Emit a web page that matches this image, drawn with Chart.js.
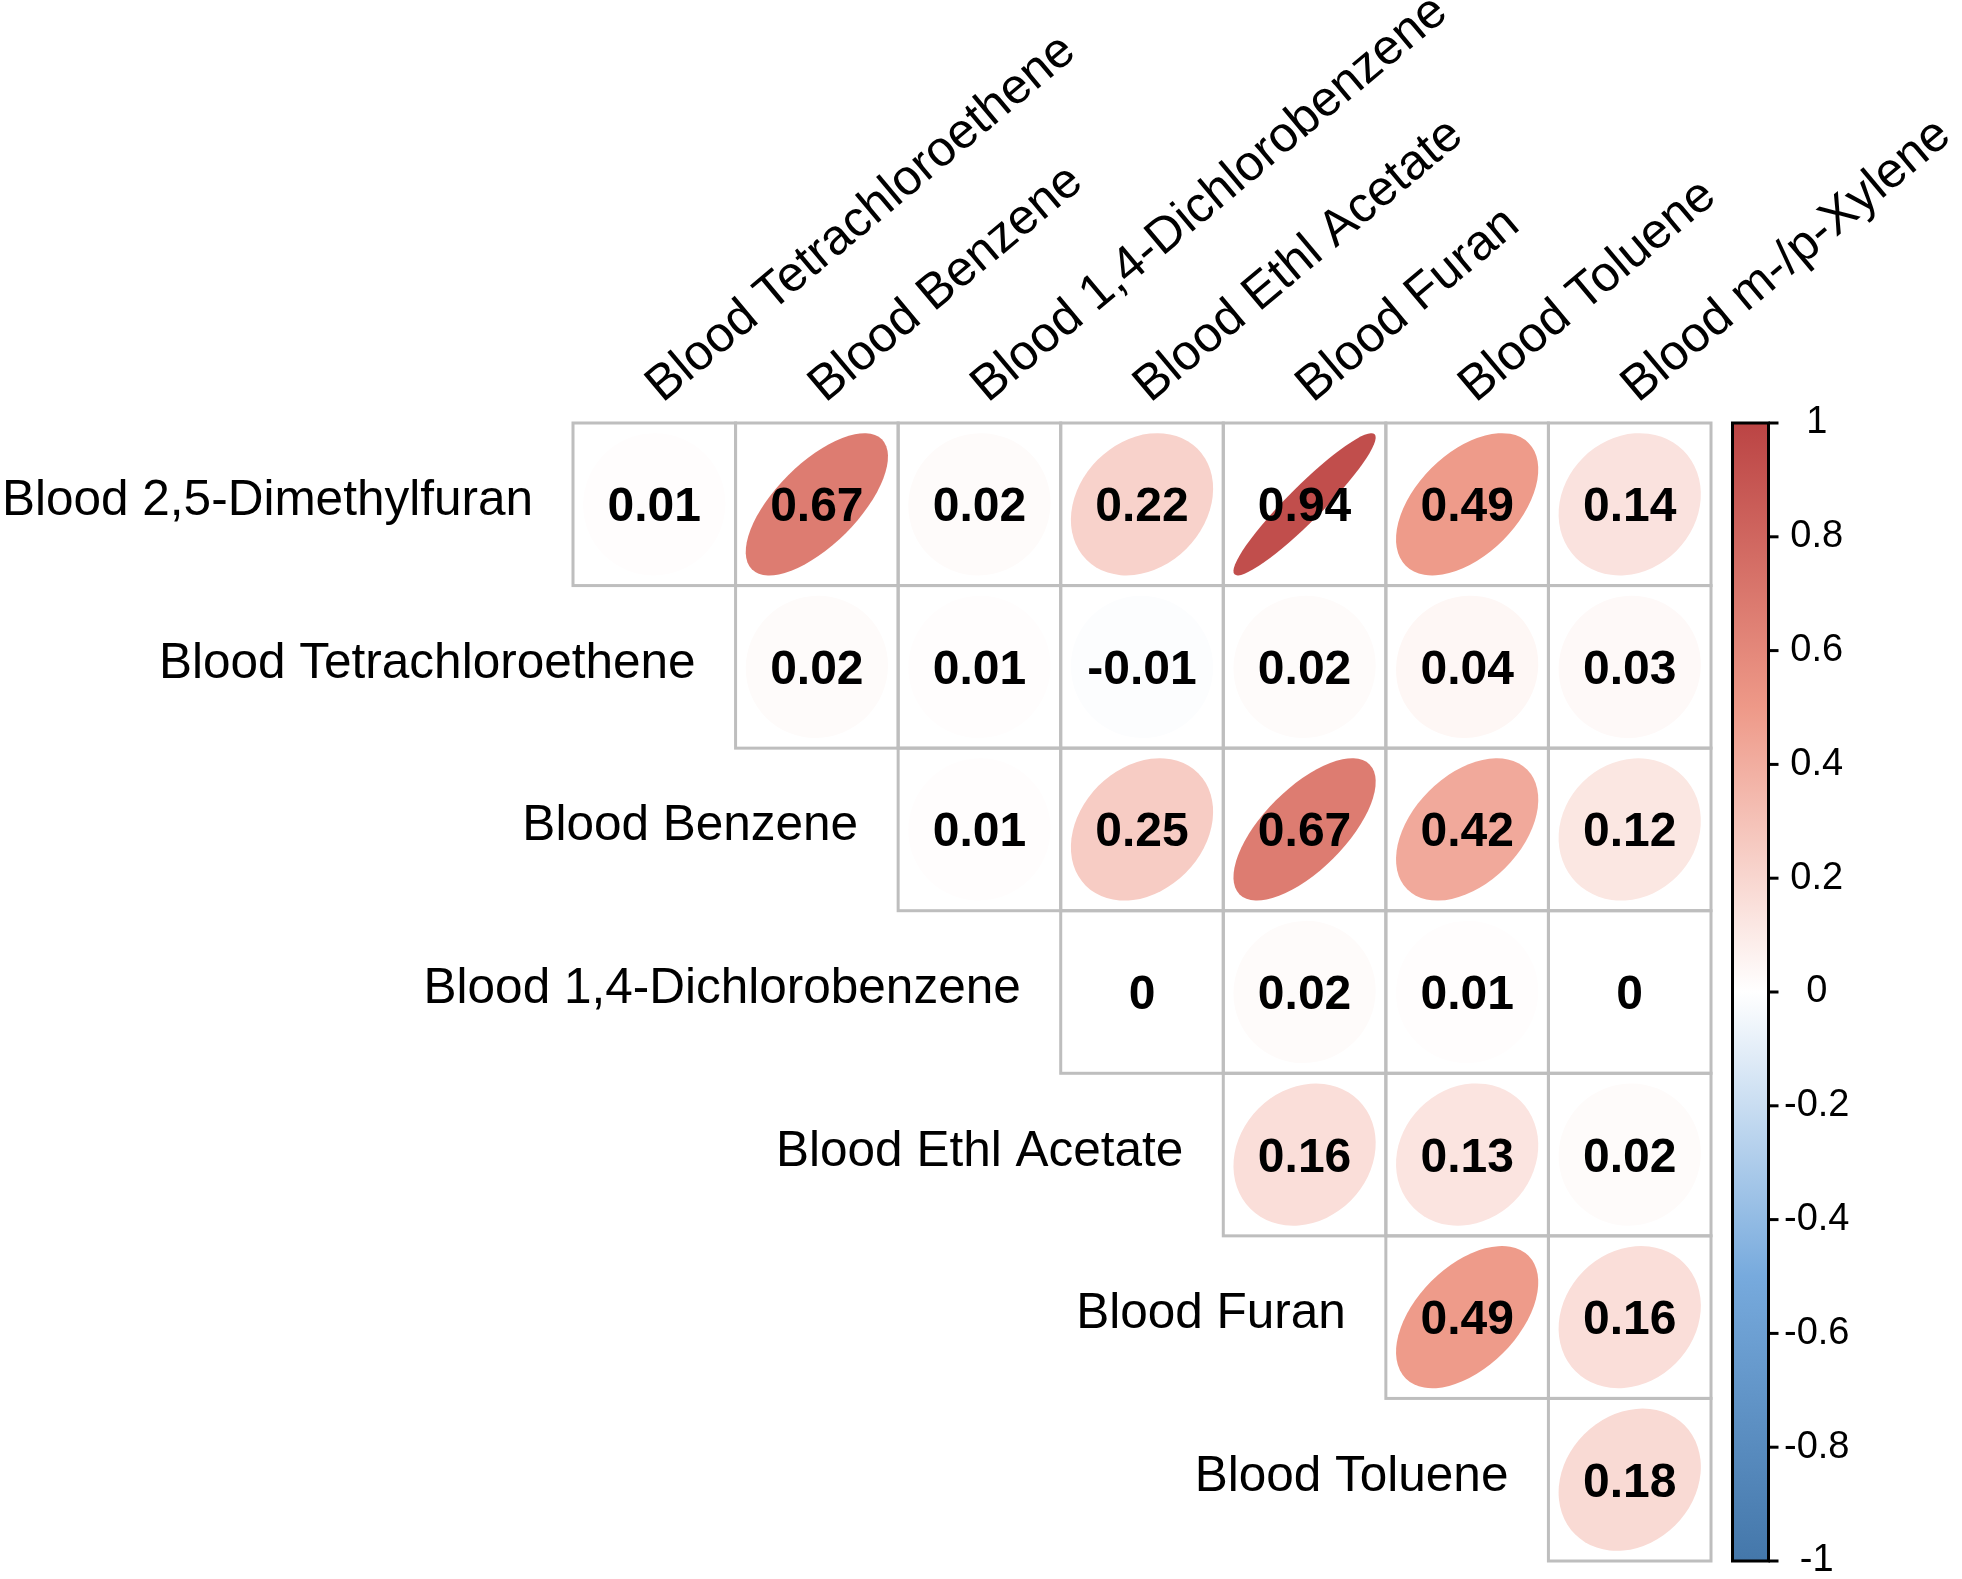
<!DOCTYPE html>
<html><head><meta charset="utf-8">
<script src="https://cdn.jsdelivr.net/npm/chart.js@4.4.1/dist/chart.umd.min.js"></script>
<style>html,body{margin:0;padding:0;background:#fff;}#wrap{width:1962px;height:1579px;}</style>
</head><body><div id="wrap"><canvas id="c" width="1962" height="1579"></canvas></div>
<script>
const rowLabels = ['Blood 2,5-Dimethylfuran','Blood Tetrachloroethene','Blood Benzene','Blood 1,4-Dichlorobenzene','Blood Ethl Acetate','Blood Furan','Blood Toluene'];
const colLabels = ['Blood Tetrachloroethene','Blood Benzene','Blood 1,4-Dichlorobenzene','Blood Ethl Acetate','Blood Furan','Blood Toluene','Blood m-/p-Xylene'];
const corrDimethylfuran = [0.01, 0.67, 0.02, 0.22, 0.94, 0.49, 0.14];
const corrTetrachloroethene = [0.02, 0.01, -0.01, 0.02, 0.04, 0.03];
const corrBenzene = [0.01, 0.25, 0.67, 0.42, 0.12];
const corrDichlorobenzene = [0, 0.02, 0.01, 0];
const corrEthlAcetate = [0.16, 0.13, 0.02];
const corrFuran = [0.49, 0.16];
const corrToluene = [0.18];
const corrRows = [corrDimethylfuran, corrTetrachloroethene, corrBenzene, corrDichlorobenzene, corrEthlAcetate, corrFuran, corrToluene];
const cbTickValues = [-1, -0.8, -0.6, -0.4, -0.2, 0, 0.2, 0.4, 0.6, 0.8, 1];
const cbTickLabels = ['-1', '-0.8', '-0.6', '-0.4', '-0.2', '0', '0.2', '0.4', '0.6', '0.8', '1'];

const paletteStops = [-1, -0.5, 0, 0.5, 1];
const paletteColors = ['#4477AA', '#77AADD', '#FFFFFF', '#EE9988', '#BB4444'];
const FONT = '"Liberation Sans", Arial, Helvetica, sans-serif';
const ELL = 0.875;

function hexToRgb(h){ return [parseInt(h.slice(1,3),16), parseInt(h.slice(3,5),16), parseInt(h.slice(5,7),16)]; }
function colorFor(v){
  for (let i = 0; i < paletteStops.length - 1; i++) {
    if (v <= paletteStops[i+1]) {
      const t = (v - paletteStops[i]) / (paletteStops[i+1] - paletteStops[i]);
      const a = hexToRgb(paletteColors[i]), b = hexToRgb(paletteColors[i+1]);
      const c = a.map((x, k) => Math.round(x + (b[k] - x) * t));
      return 'rgb(' + c.join(',') + ')';
    }
  }
  return paletteColors[paletteColors.length - 1];
}

const points = [];
corrRows.forEach((row, i) => row.forEach((v, k) => points.push({x: i + k + 0.5, y: i + 0.5, v: v})));

const corrPlugin = {
  id: 'corr',
  afterDatasetsDraw(chart) {
    const ctx = chart.ctx;
    const xs = chart.scales.x, ys = chart.scales.y, cb = chart.scales.cb;
    const cw = Math.abs(xs.getPixelForValue(1) - xs.getPixelForValue(0));
    const ch = Math.abs(ys.getPixelForValue(1) - ys.getPixelForValue(0));
    const meta = chart.getDatasetMeta(0);
    const ds = chart.data.datasets[0];
    ctx.save();
    meta.data.forEach((el, k) => {
      const v = ds.data[k].v;
      const a = Math.acos(Math.max(-1, Math.min(1, v))) / 2;
      const A = ELL * Math.cos(a) / Math.SQRT2 * cw;
      const B = ELL * Math.sin(a) / Math.SQRT2 * ch;
      ctx.beginPath();
      ctx.ellipse(el.x, el.y, Math.max(A, 0.5), Math.max(B, 0.5), -Math.PI / 4, 0, 2 * Math.PI);
      ctx.fillStyle = colorFor(v);
      ctx.fill();
    });
    ctx.strokeStyle = '#BEBEBE';
    ctx.lineWidth = 3;
    meta.data.forEach((el) => { ctx.strokeRect(el.x - cw / 2, el.y - ch / 2, cw, ch); });
    ctx.fillStyle = '#000';
    ctx.font = 'bold 48px ' + FONT;
    ctx.textAlign = 'center';
    ctx.textBaseline = 'alphabetic';
    meta.data.forEach((el, k) => { ctx.fillText(String(Math.round(ds.data[k].v * 100) / 100), el.x, el.y + 17); });
    ctx.font = '49.5px ' + FONT;
    ctx.textAlign = 'right';
    rowLabels.forEach((lab, i) => {
      ctx.fillText(lab, xs.getPixelForValue(i) - 40, ys.getPixelForValue(i + 0.5) + 11);
    });
    // colour bar
    const top = cb.getPixelForValue(1), bot = cb.getPixelForValue(-1);
    const x0 = chart.chartArea.right + 21.5, x1 = chart.chartArea.right + 57.5;
    const g = ctx.createLinearGradient(0, top, 0, bot);
    paletteStops.forEach((s, i) => g.addColorStop((1 - s) / 2, paletteColors[i]));
    ctx.fillStyle = g;
    ctx.fillRect(x0, top, x1 - x0, bot - top);
    ctx.strokeStyle = '#000';
    ctx.lineWidth = 3;
    ctx.strokeRect(x0, top, x1 - x0, bot - top);
    cb.ticks.forEach(t => {
      const y = cb.getPixelForValue(t.value);
      ctx.beginPath(); ctx.moveTo(x1, y); ctx.lineTo(x1 + 10, y); ctx.stroke();
    });
    ctx.restore();
  }
};

new Chart(document.getElementById('c'), {
  type: 'scatter',
  data: { datasets: [{ data: points, pointRadius: 0, pointHoverRadius: 0 }] },
  plugins: [corrPlugin],
  options: {
    responsive: false,
    devicePixelRatio: 1,
    animation: false,
    events: [],
    layout: { padding: { left: 573, top: 0, right: 0, bottom: 18 } },
    plugins: { legend: { display: false }, tooltip: { enabled: false } },
    scales: {
      x: {
        type: 'linear', position: 'top', min: 0, max: 7,
        grid: { display: false }, border: { display: false },
        afterBuildTicks: (s) => { s.ticks = colLabels.map((_, i) => ({ value: i + 0.5 })); },
        afterFit: (s) => { s.height = 423; s.paddingLeft = 0; s.paddingRight = 0; },
        ticks: {
          autoSkip: false, minRotation: 40, maxRotation: 40,
          padding: -1, labelOffset: 38, color: '#000',
          font: { family: FONT, size: 50 },
          callback: (value, index) => colLabels[index]
        }
      },
      y: { type: 'linear', min: 0, max: 7, reverse: true, display: false },
      cb: {
        type: 'linear', position: 'right', min: -1, max: 1,
        grid: { display: false }, border: { display: false },
        afterBuildTicks: (s) => { s.ticks = cbTickValues.map(v => ({ value: v })); },
        afterFit: (s) => { s.width = 251; s.paddingTop = 0; s.paddingBottom = 0; },
        ticks: {
          crossAlign: 'center', padding: 65, color: '#000',
          font: { family: FONT, size: 38 },
          callback: (value, index) => cbTickLabels[index]
        }
      }
    }
  }
});
</script>
</body></html>
